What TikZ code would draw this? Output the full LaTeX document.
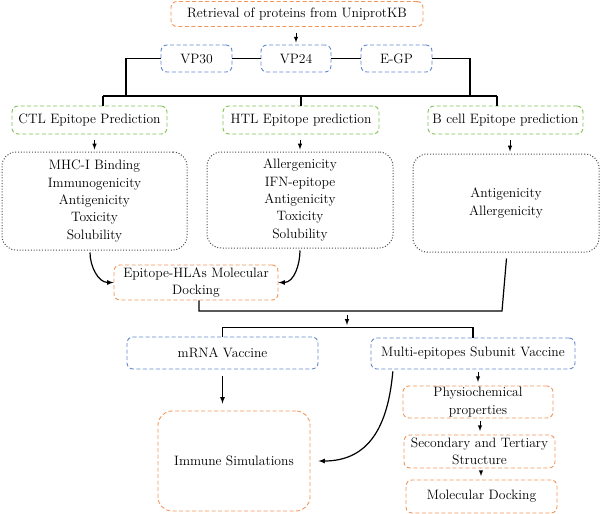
\documentclass[tikz,border=0pt]{standalone}
\usepackage{tikz}
\usepackage{xcolor}
\usetikzlibrary{positioning}
\usetikzlibrary{arrows}
\definecolor{boxorange}{RGB}{242,150,88}
\definecolor{boxblue}{RGB}{98,137,207}
\definecolor{boxgreen}{RGB}{128,196,86}
\definecolor{boxgray}{RGB}{75,75,75}

\begin{document}
\begin{tikzpicture}[x=1pt, y=-1pt, >=latex, font=\fontsize{13.6}{17.3}\selectfont,
    stagebox/.style={draw, dash pattern=on 4pt off 2.5pt, line width=0.9pt, rounded corners=6pt, align=center, inner sep=0pt},
    orangebox/.style={stagebox, draw=boxorange},
    bluebox/.style={stagebox, draw=boxblue},
    greenbox/.style={stagebox, draw=boxgreen},
    checkbox/.style={draw=boxgray, dash pattern=on 1pt off 1.8pt, line width=1pt, rounded corners=14pt, align=center, inner sep=0pt},
    link/.style={line width=1.2pt},
    flow/.style={->, line width=1pt, shorten <=6pt, shorten >=2pt},
    stepflow/.style={->, line width=1pt, shorten <=2.5pt, shorten >=3.5pt}]
    \useasboundingbox (0,0) rectangle (600,514);

    % proteins
    \node[orangebox, minimum width=252pt, minimum height=25pt] (retrieval) at (297,14) {Retrieval of proteins from UniprotKB};
    \node[bluebox, minimum width=71pt, minimum height=27pt] (vp30) at (196.5,58.5) {VP30};
    \node[bluebox, minimum width=70pt, minimum height=27pt] (vp24) at (296,58.5) {VP24};
    \node[bluebox, minimum width=71pt, minimum height=27pt] (egp) at (396.5,58.5) {E-GP};

    % epitope prediction
    \node[greenbox, minimum width=155pt, minimum height=28pt] (ctl) at (89.5,120) {CTL Epitope Prediction};
    \node[greenbox, minimum width=156pt, minimum height=28pt] (htl) at (301,120) {HTL Epitope prediction};
    \node[greenbox, minimum width=155pt, minimum height=28pt] (bcell) at (505.5,120) {B cell Epitope prediction};

    \node[checkbox, minimum width=185pt, minimum height=98pt] (ctl_checks) at (94.5,201) {MHC-I Binding \\ Immunogenicity \\ Antigenicity \\ Toxicity \\ Solubility};
    \node[checkbox, minimum width=186pt, minimum height=96pt] (htl_checks) at (300,200) {Allergenicity \\ IFN-epitope \\ Antigenicity \\ Toxicity \\ Solubility};
    \node[checkbox, minimum width=186pt, minimum height=98pt] (bcell_checks) at (506,203) {Antigenicity \\ Allergenicity};

    \node[orangebox, minimum width=164pt, minimum height=35pt] (hla_docking) at (196,282.5) {Epitope-HLAs Molecular \\ Docking};

    % vaccines
    \node[bluebox, minimum width=191pt, minimum height=32pt] (mrna) at (222.5,353) {mRNA Vaccine};
    \node[bluebox, minimum width=204pt, minimum height=31pt] (subunit) at (473,353.5) {Multi-epitopes Subunit Vaccine};
    \node[orangebox, minimum width=152pt, minimum height=100pt, rounded corners=14pt] (immune) at (234,461) {Immune Simulations};
    \node[orangebox, minimum width=150pt, minimum height=32pt] (physio) at (478,402) {Physiochemical \\ properties};
    \node[orangebox, minimum width=151pt, minimum height=33pt] (structure) at (479.5,451.5) {Secondary and Tertiary \\ Structure};
    \node[orangebox, minimum width=151pt, minimum height=33pt] (mol_docking) at (481.5,496.5) {Molecular Docking};

    \coordinate (left_drop) at (126,96);
    \coordinate (right_drop) at (470,96);
    \coordinate (bus_left) at (103,96);
    \coordinate (bus_right) at (497,96);
    \coordinate (docking_join) at (502,311);
    \coordinate (vaccine_split) at (347,311);
    \coordinate (vaccine_bus) at (347,328);

    \draw[flow] (retrieval.south -| vp24.north) -- (vp24.north);
    \draw[link] (vp30.west) -| (left_drop);
    \draw[link] (vp30.east) -- (vp24.west);
    \draw[link] (vp24.east) -- (egp.west);
    \draw[link] (egp.east) -| (right_drop);
    \draw[link] (bus_left) -- (bus_right);
    \draw[link] (bus_left) -- (bus_left |- ctl.north);
    \draw[link] (htl.north |- bus_left) -- (htl.north);
    \draw[link] (bus_right) -- (bus_right |- bcell.north);

    \draw[flow] (ctl_checks.north |- ctl.south) -- (ctl_checks.north);
    \draw[flow] (htl_checks.north |- htl.south) -- (htl_checks.north);
    \draw[flow] ([xshift=4pt]bcell_checks.north |- bcell.south) -- ([xshift=4pt]bcell_checks.north);

    \draw[->, link, shorten <=2pt] ([xshift=-4.5pt]ctl_checks.south) to[out=-90, in=180] (hla_docking.west);
    \draw[->, link, shorten <=2pt] (htl_checks.south) to[out=-90, in=0] (hla_docking.east);
    \draw[link, shorten >=6pt] ([xshift=3pt]hla_docking.south) |- (docking_join) -- ([xshift=1pt]bcell_checks.south);

    \draw[->, line width=1pt, shorten <=4pt, shorten >=3pt] (vaccine_split) -- (vaccine_bus);
    \draw[link] (mrna.north) -- ++(0,-9) -| (subunit.north);

    \draw[->, link, shorten <=7pt, shorten >=7pt] (mrna.south) -- (mrna.south |- immune.north);
    \draw[->, link, shorten <=2pt, shorten >=8pt] ([xshift=-80pt]subunit.south) to[out=-95, in=0, looseness=1.2] (immune.east);
    \draw[stepflow] (subunit.south -| physio.north) -- (physio.north);
    \draw[stepflow] ([xshift=2pt]physio.south) -- ([xshift=2pt]physio.south |- structure.north);
    \draw[stepflow] ([xshift=1.5pt]structure.south) -- ([xshift=1.5pt]structure.south |- mol_docking.north);
\end{tikzpicture}
\end{document}
